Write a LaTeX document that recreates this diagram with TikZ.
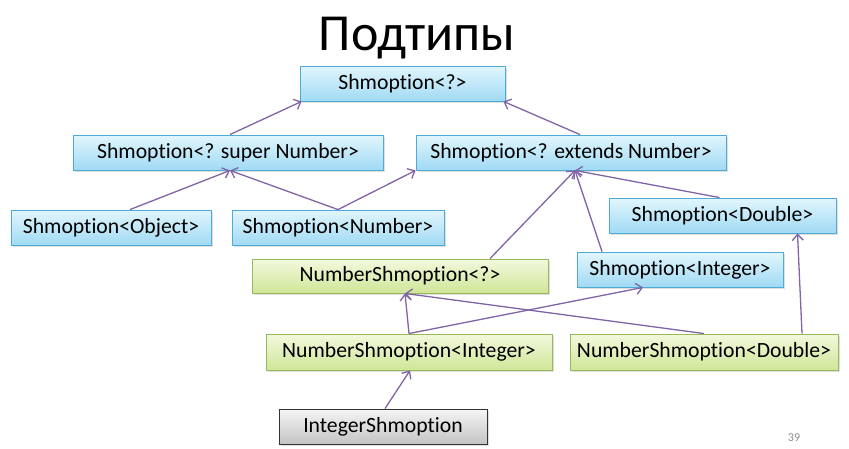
\documentclass[tikz,border=0pt]{standalone}
\usepackage{fontspec}
\setmainfont{Carlito}[Ligatures=NoCommon]
\usetikzlibrary{arrows.meta,shadows}
\definecolor{arr}{RGB}{128,100,165}
\definecolor{bluetop}{RGB}{226,246,253}
\definecolor{bluebot}{RGB}{160,218,244}
\definecolor{blueline}{RGB}{79,170,214}
\definecolor{greentop}{RGB}{242,249,222}
\definecolor{greenbot}{RGB}{208,230,152}
\definecolor{greenline}{RGB}{150,185,90}
\definecolor{graytop}{RGB}{245,245,245}
\definecolor{graybot}{RGB}{196,196,196}
\tikzset{
  boxbase/.style={rectangle, inner sep=0pt, font=\fontsize{21.7}{24}\selectfont, text=black,
     line width=0.9pt, drop shadow={shadow xshift=1.5pt, shadow yshift=-1.5pt, opacity=0.25}},
  bluebox/.style={boxbase, draw=blueline, top color=bluetop, bottom color=bluebot},
  greenbox/.style={boxbase, draw=greenline, top color=greentop, bottom color=greenbot},
  graybox/.style={boxbase, draw=black!80, top color=graytop, bottom color=graybot},
  link/.style={draw=arr, line width=1.3pt, -{Straight Barb[length=6pt,width=11pt]}}
}
\begin{document}
\begin{tikzpicture}[x=1pt,y=-1pt]
\useasboundingbox (0,0) rectangle (849,448);
\node[font=\fontsize{52}{56}\selectfont] (title) at (417,38) {Подтипы};
\node[text=black!45, font=\fontsize{12}{14}\selectfont] (pg) at (794,438) {39};

\node[bluebox, minimum width=205, minimum height=35] (q) at (402.5,83.5) {Shmoption<?>};
\node[bluebox, minimum width=310, minimum height=35] (sup) at (228,152.5) {Shmoption<? super Number>};
\node[bluebox, minimum width=310, minimum height=35] (ext) at (571,152.5) {Shmoption<? extends Number>};
\node[bluebox, minimum width=200, minimum height=35] (obj) at (111,227.5) {Shmoption<Object>};
\node[bluebox, minimum width=212, minimum height=35] (num) at (338,227.5) {Shmoption<Number>};
\node[bluebox, minimum width=227, minimum height=35] (dbl) at (722.5,215.5) {Shmoption<Double>};
\node[greenbox, minimum width=296, minimum height=34] (nq) at (400,276) {NumberShmoption<?>};
\node[bluebox, minimum width=206, minimum height=35] (int) at (680,269.5) {Shmoption<Integer>};
\node[greenbox, minimum width=286, minimum height=36] (nint) at (409,352) {NumberShmoption<Integer>};
\node[greenbox, minimum width=268, minimum height=36] (ndbl) at (704,352) {NumberShmoption<Double>};
\node[graybox, minimum width=208, minimum height=35] (ish) at (383,426.5) {IntegerShmoption};

\coordinate (qbl) at ([xshift=2pt]q.south west);
\coordinate (qbr) at ([xshift=-2pt]q.south east);
\coordinate (supb) at ([xshift=2pt]sup.south);
\coordinate (extb) at ([xshift=4pt]ext.south);
\coordinate (extbl) at ([yshift=0pt]ext.south west);
\coordinate (nqb) at ([xshift=5pt]nq.south);
\coordinate (intb) at ([xshift=-37pt]int.south);
\coordinate (dblb) at ([xshift=75pt]dbl.south);

\draw[link] ([xshift=2pt]sup.north) -- (qbl);
\draw[link] ([xshift=9pt]ext.north) -- (qbr);
\draw[link] ([xshift=19pt]obj.north) -- (supb);
\draw[link] (num.north) -- (supb);
\draw[link] (num.north) -- (extbl);
\draw[link] ([xshift=90pt]nq.north) -- (extb);
\draw[link] ([xshift=-78pt]int.north) -- (extb);
\draw[link] ([xshift=-3pt]dbl.north) -- (extb);
\draw[link] (nint.north) -- (nqb);
\draw[link] (nint.north) -- (intb);
\draw[link] (ndbl.north) -- (nqb);
\draw[link] ([xshift=98pt]ndbl.north) -- (dblb);
\draw[link] ([xshift=2pt]ish.north) -- ([xshift=1pt]nint.south);
\end{tikzpicture}
\end{document}
